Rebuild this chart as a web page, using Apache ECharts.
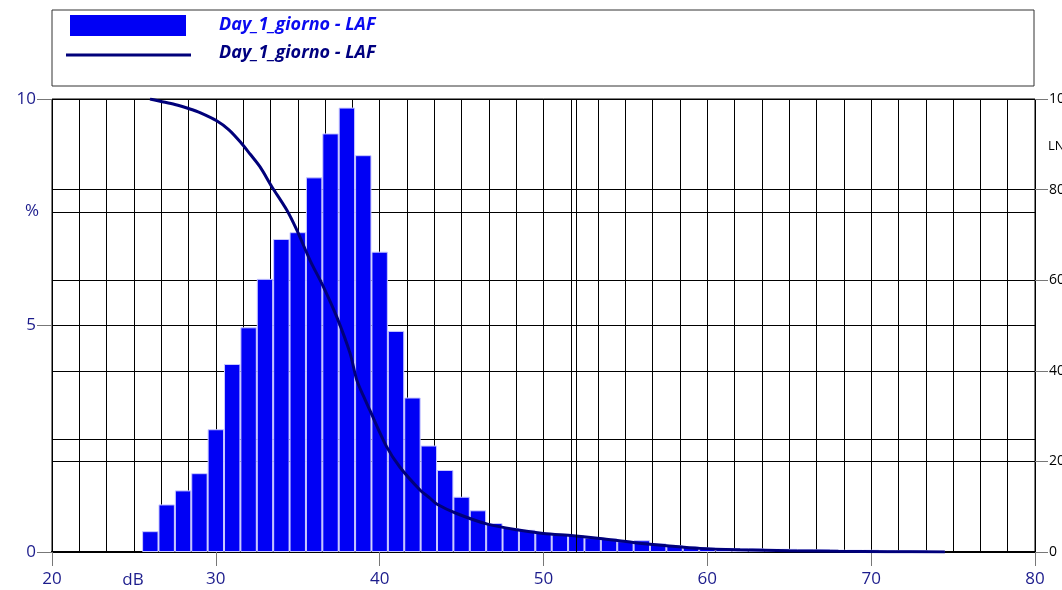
<!DOCTYPE html>
<html>
<head>
<meta charset="utf-8">
<script src="https://cdn.jsdelivr.net/npm/echarts@6/dist/echarts.min.js"></script>
<style>
  html, body { margin: 0; padding: 0; background: #fff; }
  #main { width: 1062px; height: 590px; }
</style>
</head>
<body>
<div id="main"></div>
<script>
// distribuzione livelli (dB) -> % del tempo
var levels = [26, 27, 28, 29, 30, 31, 32, 33, 34, 35, 36, 37, 38, 39, 40, 41, 42, 43, 44, 45,
  46, 47, 48, 49, 50, 51, 52, 53, 54, 55, 56, 57, 58, 59, 60, 61, 62, 63, 64, 65,
  66, 67, 68, 69, 70, 71, 72, 73, 74]
var percent = [0.46, 1.05, 1.36, 1.74, 2.71, 4.15, 4.96, 6.03, 6.91, 7.06, 8.27, 9.24, 9.81, 8.76, 6.63, 4.88, 3.41, 2.35, 1.81, 1.22,
  0.92, 0.64, 0.53, 0.49, 0.42, 0.39, 0.37, 0.32, 0.30, 0.24, 0.26, 0.19, 0.15, 0.12, 0.10, 0.09, 0.08, 0.08, 0.07, 0.07,
  0.06, 0.06, 0.05, 0.05, 0.05, 0.04, 0.04, 0.04, 0.03]

// curva LN (livello superato per N% del tempo)
var lnLevels = [25.98, 26.6, 27.5, 28.42, 29.03, 30.05, 30.8, 31.5, 32.1, 32.7, 33.41, 34.33, 34.94, 35.75, 36.56, 37.38,
  38.19, 38.6, 39.0, 39.4, 40.43, 41.24, 42.46, 43.07, 43.48, 44.7, 46.53, 48.36, 49.99, 51.82, 53.45, 55.48,
  57.52, 59.55, 62, 65, 68, 71, 74.5]
var lnValues = [100, 99.5, 98.8, 97.8, 97.0, 95.2, 93.2, 90.5, 87.8, 85.0, 80.7, 75.5, 71.1, 64.4, 58.6, 51.9,
  43.9, 38.0, 34.5, 31.3, 23.2, 18.7, 13.7, 11.9, 10.6, 8.5, 6.2, 4.9, 4.1, 3.6, 3.0, 2.1,
  1.4, 0.8, 0.5, 0.3, 0.15, 0.07, 0]

var xTicks = [20, 30, 40, 50, 60, 70, 80]
var leftTicks = [0, 5, 10]
var rightTicks = [0, 20, 40, 60, 80, 100]
var markerLevel = 52
var seriesName = 'Day_1_giorno - LAF'

var navy = '#1c1c8c'
var font = 'Open Sans'

var myChart = echarts.init(document.getElementById('main'))

var barData = levels.map(function (l, i) { return [l, percent[i]] })
var lineData = lnLevels.map(function (l, i) { return [l, lnValues[i]] })

var option = {
  animation: false,
  grid: {
    left: 52, right: 27, top: 99, bottom: 38,
    containLabel: false, outerBoundsMode: 'none',
    show: true, borderColor: '#000', borderWidth: 1
  },
  xAxis: [
    {
      type: 'value', min: xTicks[0], max: xTicks[xTicks.length - 1], interval: 10,
      position: 'bottom',
      axisLine: { lineStyle: { color: '#000', width: 2 } },
      axisTick: { show: true, length: 14, lineStyle: { color: '#777' } },
      axisLabel: { color: navy, fontSize: 17, fontFamily: font, margin: 19 },
      splitLine: { show: false }
    },
    {
      type: 'value', min: 20, max: 80, interval: 5 / 3,
      position: 'top',
      axisLine: { show: true, lineStyle: { color: '#000', width: 2 } },
      axisTick: { show: false },
      axisLabel: { show: false },
      splitLine: { show: true, lineStyle: { color: '#000', width: 1 } }
    }
  ],
  yAxis: [
    {
      type: 'value', min: leftTicks[0], max: leftTicks[leftTicks.length - 1], interval: 5,
      position: 'left',
      axisLine: { show: false },
      axisTick: { show: true, length: 15, lineStyle: { color: '#777' } },
      axisLabel: { color: navy, fontSize: 17, fontFamily: font, margin: 16 },
      splitLine: { show: true, lineStyle: { color: '#000' } }
    },
    {
      type: 'value', min: 0, max: 10, interval: 2.5,
      position: 'left',
      axisLine: { show: false }, axisTick: { show: false }, axisLabel: { show: false },
      splitLine: { show: true, lineStyle: { color: '#000' } }
    },
    {
      type: 'value', min: rightTicks[0], max: rightTicks[rightTicks.length - 1], interval: 20,
      position: 'right',
      axisLine: { show: false },
      axisTick: { show: true, length: 13, lineStyle: { color: '#777' } },
      axisLabel: { color: '#000', fontSize: 14, fontFamily: font, margin: 14 },
      splitLine: { show: true, lineStyle: { color: '#000' } }
    }
  ],
  series: [
    {
      type: 'line', data: [], z: 1, silent: true,
      markLine: {
        symbol: 'none', silent: true, label: { show: false },
        lineStyle: { color: '#000', width: 1, type: 'solid' },
        data: [{ xAxis: markerLevel }]
      }
    },
    {
      name: seriesName, type: 'bar', xAxisIndex: 0, yAxisIndex: 0,
      data: barData, barWidth: 16.4, z: 3,
      itemStyle: { color: '#0000f5', borderColor: '#c8c8ff', borderWidth: 1 }
    },
    {
      name: seriesName, type: 'line', xAxisIndex: 0, yAxisIndex: 2,
      data: lineData, showSymbol: false, smooth: 0.3, z: 4,
      lineStyle: { color: '#00007a', width: 3 }
    }
  ],
  graphic: [
    { type: 'rect', shape: { x: 52, y: 10, width: 982, height: 76 }, style: { fill: '#fff', stroke: '#333', lineWidth: 1 } },
    { type: 'rect', shape: { x: 70, y: 15, width: 116, height: 21 }, style: { fill: '#0000f5' } },
    { type: 'line', shape: { x1: 66, y1: 55, x2: 191, y2: 55 }, style: { stroke: '#00007a', lineWidth: 3 } },
    { type: 'text', x: 219, y: 25, style: { text: seriesName, fill: '#0a0af0', font: 'italic bold 18px "Open Sans"', verticalAlign: 'middle' } },
    { type: 'text', x: 219, y: 53, style: { text: seriesName, fill: '#000080', font: 'italic bold 18px "Open Sans"', verticalAlign: 'middle' } },
    { type: 'text', x: 32, y: 211, style: { text: '%', fill: navy, font: '17px "Open Sans"', align: 'center', verticalAlign: 'middle' } },
    { type: 'text', x: 133, y: 580, style: { text: 'dB', fill: navy, font: '17px "Open Sans"', align: 'center', verticalAlign: 'middle' } },
    { type: 'text', x: 1048, y: 146, style: { text: 'LN', fill: '#000', font: '13px "Open Sans"', verticalAlign: 'middle' } }
  ]
}

myChart.setOption(option)
</script>
</body>
</html>
